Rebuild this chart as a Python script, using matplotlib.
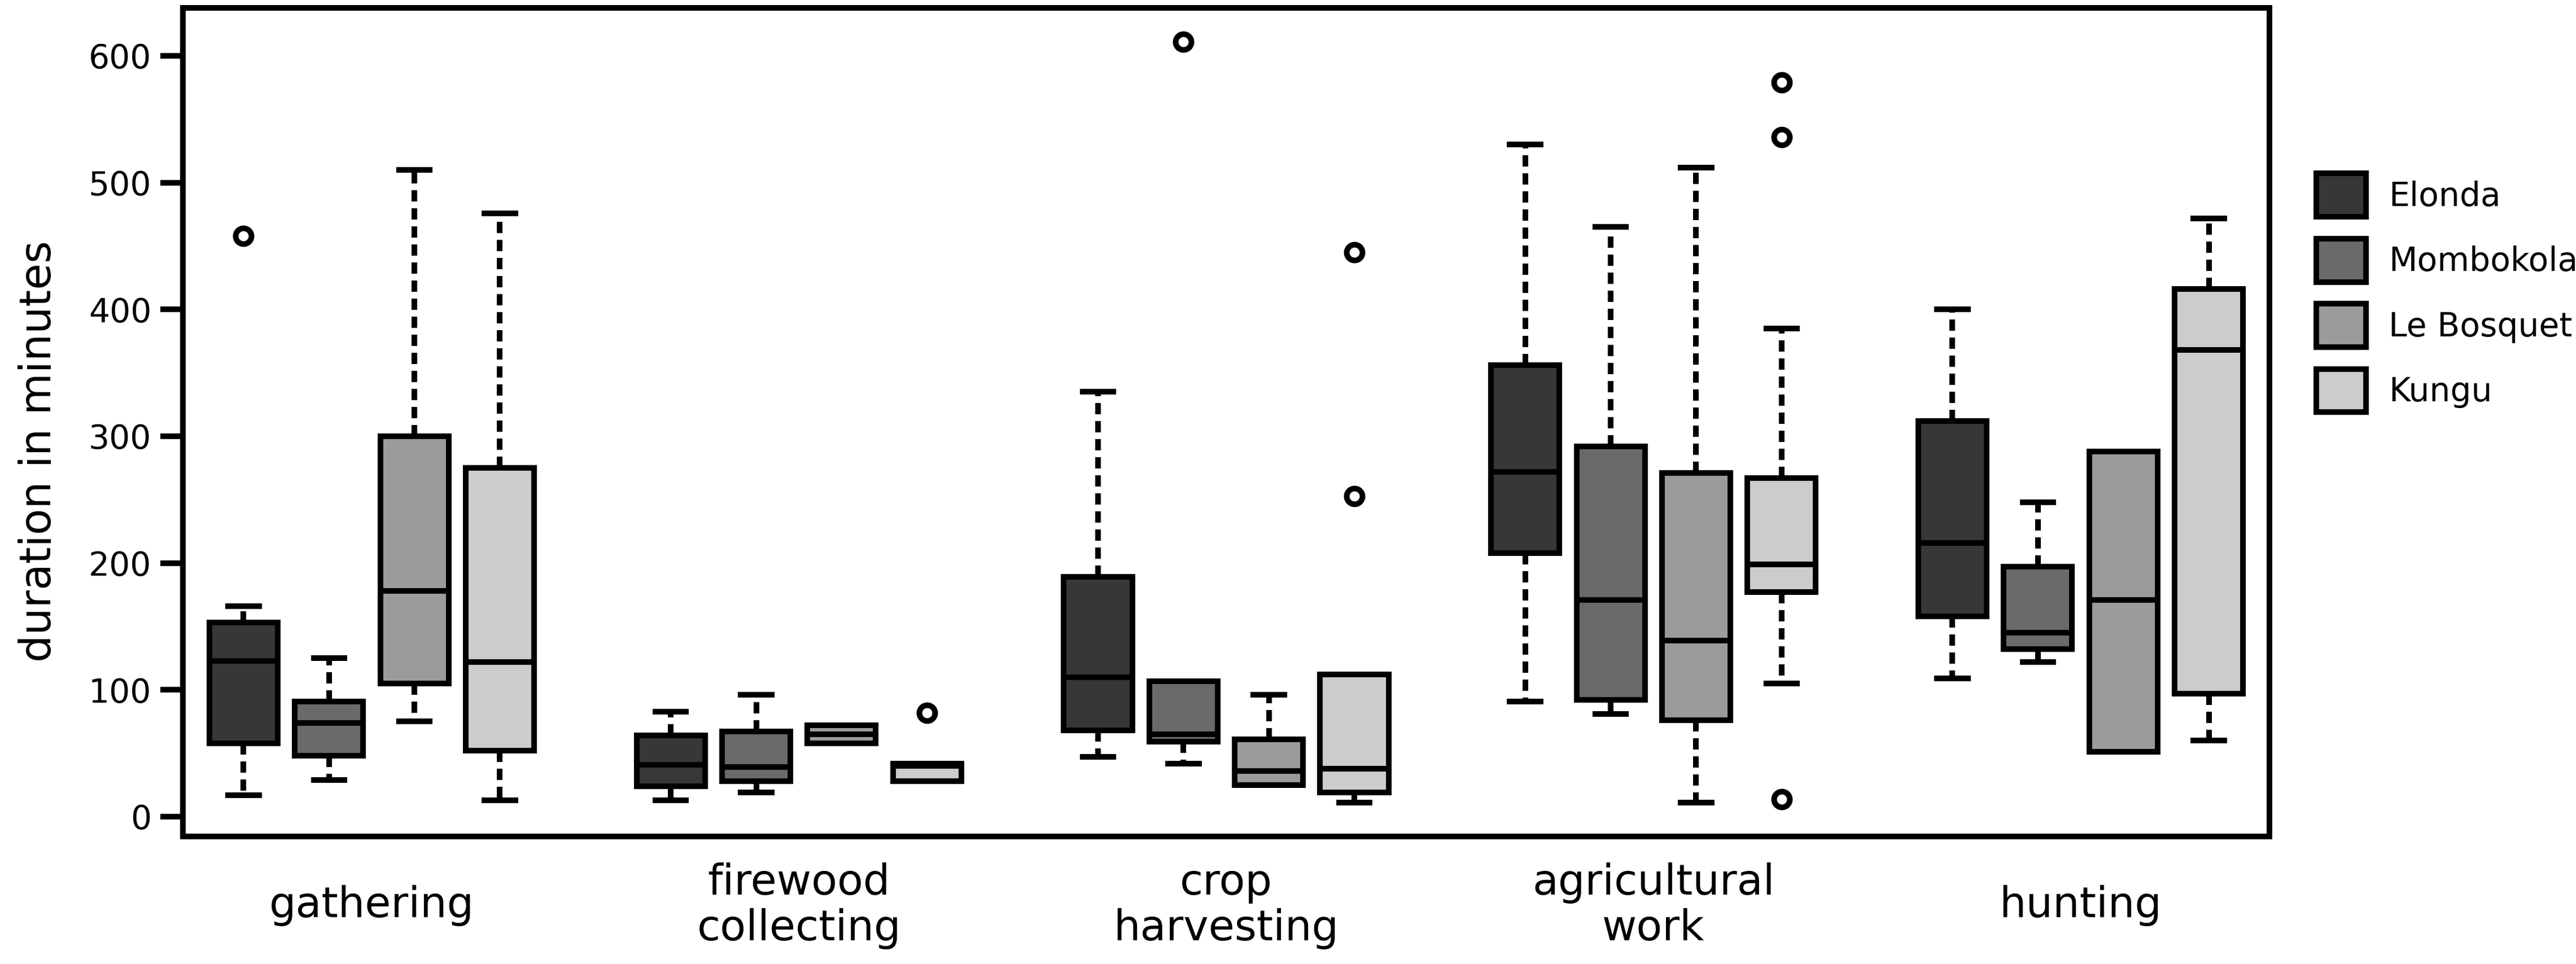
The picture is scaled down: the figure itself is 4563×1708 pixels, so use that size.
import matplotlib
matplotlib.use('Agg')
import matplotlib.pyplot as plt
from matplotlib.patches import Patch

categories = ['gathering', 'firewood\ncollecting', 'crop\nharvesting', 'agricultural\nwork', 'hunting']
villages = ['Elonda', 'Mombokola', 'Le Bosquet', 'Kungu']
colors = ['#373737', '#6a6a6a', '#9b9b9b', '#cccccc']

# per village, one value per category (minutes)
elonda_lo = [17, 13, 47, 91, 109]
elonda_q1 = [58, 24, 68, 208, 158]
elonda_med = [123, 41, 110, 272, 216]
elonda_q3 = [153, 64, 189, 356, 312]
elonda_hi = [166, 83, 335, 530, 400]
elonda_out = [[458], [], [], [], []]

mombokola_lo = [29, 19, 42, 81, 122]
mombokola_q1 = [48, 28, 59, 92, 132]
mombokola_med = [74, 39, 65, 171, 145]
mombokola_q3 = [91, 67, 107, 292, 197]
mombokola_hi = [125, 96, 107, 465, 248]
mombokola_out = [[], [], [611], [], []]

bosquet_lo = [75, 58, 25, 11, 51]
bosquet_q1 = [105, 58, 25, 76, 51]
bosquet_med = [178, 65, 36, 139, 171]
bosquet_q3 = [300, 72, 61, 271, 288]
bosquet_hi = [510, 72, 96, 512, 288]
bosquet_out = [[], [], [], [], []]

kungu_lo = [13, 28, 11, 105, 60]
kungu_q1 = [52, 28, 19, 177, 97]
kungu_med = [122, 40, 38, 199, 368]
kungu_q3 = [275, 42, 112, 267, 416]
kungu_hi = [476, 42, 112, 385, 472]
kungu_out = [[], [82], [445, 253], [579, 536, 14], []]

series = [
    (elonda_lo, elonda_q1, elonda_med, elonda_q3, elonda_hi, elonda_out),
    (mombokola_lo, mombokola_q1, mombokola_med, mombokola_q3, mombokola_hi, mombokola_out),
    (bosquet_lo, bosquet_q1, bosquet_med, bosquet_q3, bosquet_hi, bosquet_out),
    (kungu_lo, kungu_q1, kungu_med, kungu_q3, kungu_hi, kungu_out),
]

plt.rcParams['font.family'] = ['DejaVu Sans']
LW = 2.4

fig = plt.figure(figsize=(4563 / 300, 1708 / 300), dpi=300)
ax = fig.add_axes([0.0710, 0.1323, 0.8100, 0.8595])

for j, (lo, q1, med, q3, hi, out) in enumerate(series):
    stats = []
    for i in range(len(categories)):
        stats.append({'whislo': lo[i], 'q1': q1[i], 'med': med[i], 'q3': q3[i],
                      'whishi': hi[i], 'fliers': out[i]})
    pos = [5 * i + j - 1.5 for i in range(len(categories))]
    ax.bxp(stats, positions=pos, widths=0.8, capwidths=0.36, patch_artist=True,
           showfliers=True, manage_ticks=False,
           boxprops=dict(facecolor=colors[j], edgecolor='black', linewidth=LW),
           medianprops=dict(color='black', linewidth=LW),
           whiskerprops=dict(color='black', linewidth=LW, linestyle=(0, (2.0, 1.2))),
           capprops=dict(color='black', linewidth=LW),
           flierprops=dict(marker='o', markerfacecolor='white', markeredgecolor='black',
                           markersize=6.7, markeredgewidth=LW))

ax.set_xlim(-2.21, 22.21)
ax.set_ylim(-15.6, 637.8)
ax.set_yticks([0, 100, 200, 300, 400, 500, 600])
ax.set_xticks([5 * i for i in range(len(categories))])
ax.set_xticklabels(categories, fontsize=18, linespacing=1.15)
for lbl in ax.get_xticklabels():
    lbl.set_va('center')
ax.tick_params(axis='x', length=0, pad=29.5)
ax.tick_params(axis='y', labelsize=14, length=9.6, width=LW, pad=3.8)
for s in ax.spines.values():
    s.set_linewidth(LW)

ax.set_ylabel('duration in minutes', fontsize=18.3)
ax.yaxis.set_label_coords(-0.0690, 0.465)
ax.yaxis.label.set_va('center')

handles = [Patch(facecolor=c, edgecolor='black', linewidth=LW) for c in colors]
fig.legend(handles, villages, loc='upper left', bbox_to_anchor=(0.8992, 0.8200),
           bbox_transform=fig.transFigure, frameon=False, fontsize=14,
           handlelength=1.5, handleheight=1.65, labelspacing=0.66,
           handletextpad=0.7, borderpad=0, borderaxespad=0)

fig.savefig('out.png', dpi=300)
